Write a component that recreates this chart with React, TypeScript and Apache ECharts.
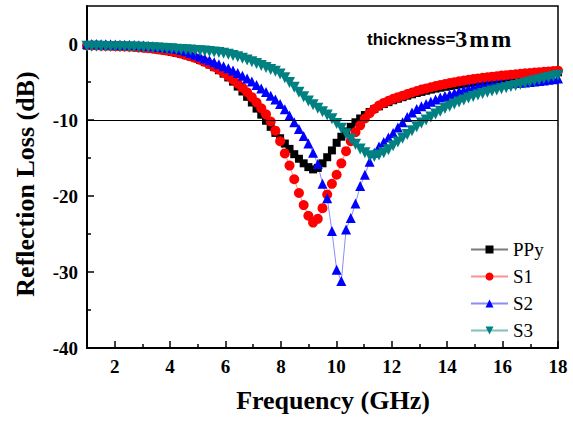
import React, { useEffect, useRef } from 'react';
import * as echarts from 'echarts';

const freq = [
  1.00, 1.17, 1.34, 1.51, 1.68, 1.85, 2.02, 2.19, 2.36, 2.53,
  2.70, 2.87, 3.04, 3.21, 3.38, 3.55, 3.72, 3.89, 4.06, 4.23,
  4.40, 4.57, 4.74, 4.91, 5.08, 5.25, 5.42, 5.59, 5.76, 5.93,
  6.10, 6.27, 6.44, 6.61, 6.78, 6.95, 7.12, 7.29, 7.46, 7.63,
  7.80, 7.97, 8.14, 8.31, 8.48, 8.65, 8.82, 8.99, 9.16, 9.33,
  9.50, 9.67, 9.84, 10.01, 10.18, 10.35, 10.52, 10.69, 10.86, 11.03,
  11.20, 11.37, 11.54, 11.71, 11.88, 12.05, 12.22, 12.39, 12.56, 12.73,
  12.90, 13.07, 13.24, 13.41, 13.58, 13.75, 13.92, 14.09, 14.26, 14.43,
  14.60, 14.77, 14.94, 15.11, 15.28, 15.45, 15.62, 15.79, 15.96, 16.13,
  16.30, 16.47, 16.64, 16.81, 16.98, 17.15, 17.32, 17.49, 17.66, 17.83,
  18.00,
];

const ppy = [
  -0.2, -0.2, -0.2, -0.22, -0.24, -0.26, -0.28, -0.3, -0.33, -0.36,
  -0.4, -0.45, -0.5, -0.57, -0.64, -0.72, -0.82, -0.93, -1.05, -1.18,
  -1.32, -1.48, -1.66, -1.86, -2.1, -2.38, -2.7, -3.05, -3.45, -3.9,
  -4.4, -4.95, -5.6, -6.25, -6.95, -7.7, -8.5, -9.3, -10.1, -10.9,
  -11.7, -12.4, -13.1, -13.8, -14.5, -15.1, -15.7, -16.2, -16.5, -16.3,
  -15.7, -14.9, -14.0, -13.0, -12.2, -11.5, -10.9, -10.3, -9.8, -9.35,
  -8.95, -8.55, -8.2, -7.9, -7.65, -7.4, -7.2, -7.0, -6.8, -6.62,
  -6.45, -6.3, -6.15, -6.0, -5.87, -5.75, -5.63, -5.52, -5.42, -5.32,
  -5.22, -5.12, -5.03, -4.95, -4.87, -4.79, -4.71, -4.63, -4.56, -4.49,
  -4.42, -4.35, -4.28, -4.21, -4.14, -4.07, -4.0, -3.93, -3.86, -3.79,
  -3.72,
];

const s1 = [
  -0.2, -0.2, -0.2, -0.22, -0.24, -0.26, -0.28, -0.3, -0.33, -0.36,
  -0.4, -0.45, -0.5, -0.56, -0.63, -0.7, -0.78, -0.87, -0.98, -1.11,
  -1.26, -1.43, -1.62, -1.84, -2.08, -2.35, -2.65, -2.98, -3.35, -3.75,
  -4.2, -4.7, -5.2, -5.75, -6.35, -7.0, -7.7, -8.45, -9.25, -10.2,
  -11.4, -12.8, -14.4, -16.0, -17.8, -19.6, -21.2, -22.6, -23.5, -23.0,
  -21.6, -19.8, -18.4, -17.2, -15.7, -14.1, -12.8, -11.6, -10.7, -9.8,
  -9.1, -8.55, -8.1, -7.75, -7.47, -7.22, -7.0, -6.8, -6.58, -6.38,
  -6.18, -6.0, -5.84, -5.69, -5.54, -5.4, -5.27, -5.14, -5.02, -4.91,
  -4.81, -4.71, -4.62, -4.53, -4.45, -4.37, -4.3, -4.23, -4.16, -4.1,
  -4.04, -3.98, -3.92, -3.86, -3.81, -3.76, -3.71, -3.66, -3.61, -3.56,
  -3.51,
];

const s2 = [
  0, 0, -0.01, -0.02, -0.03, -0.04, -0.05, -0.07, -0.09, -0.11,
  -0.14, -0.17, -0.21, -0.25, -0.3, -0.36, -0.42, -0.48, -0.55, -0.66,
  -0.8, -0.97, -1.17, -1.4, -1.65, -1.9, -2.15, -2.4, -2.65, -2.92,
  -3.2, -3.5, -3.82, -4.17, -4.55, -4.95, -5.4, -5.85, -6.3, -6.8,
  -7.3, -7.9, -8.6, -9.4, -10.3, -11.2, -12.1, -13.1, -14.3, -15.8,
  -18.4, -20.3, -24.6, -29.7, -31.2, -24.4, -22.9, -21.0, -18.7, -17.2,
  -15.5, -14.3, -13.5, -12.9, -12.3, -11.7, -11.0, -10.3, -9.6, -9.0,
  -8.55, -8.2, -7.9, -7.6, -7.3, -7.05, -6.85, -6.65, -6.45, -6.25,
  -6.05, -5.9, -5.75, -5.6, -5.5, -5.42, -5.36, -5.3, -5.26, -5.22,
  -5.18, -5.14, -5.1, -5.05, -5.0, -4.95, -4.88, -4.8, -4.72, -4.64,
  -4.55,
];

const s3 = [
  -0.3, -0.3, -0.3, -0.31, -0.32, -0.33, -0.34, -0.35, -0.36, -0.38,
  -0.4, -0.42, -0.44, -0.47, -0.5, -0.53, -0.56, -0.6, -0.64, -0.68,
  -0.72, -0.76, -0.8, -0.84, -0.88, -0.93, -0.98, -1.04, -1.12, -1.22,
  -1.35, -1.5, -1.68, -1.88, -2.1, -2.33, -2.57, -2.82, -3.08, -3.36,
  -3.6, -3.95, -4.45, -5.05, -5.7, -6.35, -6.95, -7.5, -8.0, -8.45,
  -8.9, -9.35, -9.85, -10.45, -11.1, -11.8, -12.5, -13.2, -13.8, -14.3,
  -14.7, -14.8, -14.6, -14.3, -13.9, -13.4, -12.9, -12.4, -11.9, -11.4,
  -10.9, -10.4, -10.0, -9.6, -9.2, -8.85, -8.5, -8.2, -7.9, -7.62,
  -7.36, -7.12, -6.9, -6.7, -6.52, -6.36, -6.2, -6.05, -5.9, -5.75,
  -5.6, -5.45, -5.3, -5.15, -5.0, -4.85, -4.7, -4.55, -4.4, -4.25,
  -4.1,
];

const seriesNames = ['PPy', 'S1', 'S2', 'S3'];
const xMajorTicks = [2, 4, 6, 8, 10, 12, 14, 16, 18];
const xMinorTicks = [3, 5, 7, 9, 11, 13, 15, 17];
const yMajorTicks = [-40, -30, -20, -10, 0];
const yMinorTicks = [-35, -25, -15, -5];
const refLevel = -10;

export default function App() {
  const ref = useRef<HTMLDivElement>(null);
  useEffect(() => {
    if (!ref.current) return;
    const chart = echarts.init(ref.current, null, { renderer: 'svg' });
    const serif = '"Liberation Serif", "Times New Roman", serif';
    const sans = '"Liberation Sans", Arial, sans-serif';
    const mk = (arr: number[]) => freq.map((f, i) => [f, arr[i]]);
    const labelStyle = {
      fontFamily: serif,
      fontWeight: 'bold',
      fontSize: 19,
      color: '#000',
    };
    chart.setOption({
      animation: false,
      backgroundColor: '#fff',
      grid: {
        left: 87,
        right: 15,
        top: 6,
        bottom: 75,
        show: true,
        borderColor: '#000',
        borderWidth: 1.5,
        backgroundColor: 'transparent',
        outerBoundsMode: 'none',
        containLabel: false,
      },
      xAxis: [
        {
          type: 'value',
          min: 1,
          max: 18,
          position: 'bottom',
          axisLine: { show: true, onZero: false, lineStyle: { color: '#000', width: 2 } },
          axisTick: {
            show: true,
            inside: true,
            length: 7,
            customValues: xMajorTicks,
            lineStyle: { color: '#000', width: 1.5 },
          },
          axisLabel: { ...labelStyle, margin: 9, customValues: xMajorTicks },
          splitLine: { show: false },
        },
        {
          type: 'value',
          min: 1,
          max: 18,
          position: 'bottom',
          axisLine: { show: false, onZero: false },
          axisTick: {
            show: true,
            inside: true,
            length: 4,
            customValues: xMinorTicks,
            lineStyle: { color: '#000', width: 1.5 },
          },
          axisLabel: { show: false },
          splitLine: { show: false },
        },
      ],
      yAxis: [
        {
          type: 'value',
          min: -40,
          max: 5,
          position: 'left',
          axisLine: { show: true, onZero: false, lineStyle: { color: '#000', width: 2 } },
          axisTick: {
            show: true,
            inside: true,
            length: 7,
            customValues: yMajorTicks,
            lineStyle: { color: '#000', width: 1.5 },
          },
          axisLabel: { ...labelStyle, margin: 9, customValues: yMajorTicks },
          splitLine: { show: false },
        },
        {
          type: 'value',
          min: -40,
          max: 5,
          position: 'left',
          axisLine: { show: false, onZero: false },
          axisTick: {
            show: true,
            inside: true,
            length: 4,
            customValues: yMinorTicks,
            lineStyle: { color: '#000', width: 1.5 },
          },
          axisLabel: { show: false },
          splitLine: { show: false },
        },
      ],
      legend: {
        orient: 'vertical',
        left: 465,
        top: 235,
        itemWidth: 37,
        itemHeight: 10,
        itemGap: 8,
        selectedMode: false,
        data: seriesNames,
        textStyle: { fontFamily: serif, fontSize: 19, color: '#000' },
      },
      graphic: [
        {
          type: 'text',
          x: 333,
          y: 400,
          style: {
            text: 'Frequency (GHz)',
            font: `bold 26px ${serif}`,
            fill: '#000',
            align: 'center',
            verticalAlign: 'middle',
          },
        },
        {
          type: 'text',
          x: 25,
          y: 184,
          rotation: Math.PI / 2,
          style: {
            text: 'Reflection Loss (dB)',
            font: `bold 26px ${serif}`,
            fill: '#000',
            align: 'center',
            verticalAlign: 'middle',
          },
        },
        {
          type: 'text',
          x: 367,
          y: 39,
          style: {
            text: '{a|thickness=}{b|3}{c|m}{c|m}',
            align: 'left',
            verticalAlign: 'middle',
            rich: {
              a: { fontFamily: sans, fontWeight: 'bold', fontSize: 17, fill: '#000', color: '#000' },
              b: { fontFamily: serif, fontWeight: 'bold', fontSize: 24, fill: '#000', color: '#000' },
              c: { fontFamily: serif, fontWeight: 'bold', fontSize: 24, fill: '#000', color: '#000', padding: [0, 0, 0, 2] },
            },
          },
        },
      ],
      series: [
        {
          name: 'PPy',
          type: 'line',
          data: mk(ppy),
          symbol: 'rect',
          symbolSize: 8,
          itemStyle: { color: '#000' },
          lineStyle: { color: '#7a7a7a', width: 1 },
          emphasis: { disabled: true },
          silent: true,
          markLine: {
            silent: true,
            symbol: ['none', 'none'],
            label: { show: false },
            lineStyle: { color: '#000', width: 1.2, type: 'solid' },
            emphasis: { disabled: true },
            data: [{ yAxis: refLevel }],
          },
        },
        {
          name: 'S1',
          type: 'line',
          data: mk(s1),
          symbol: 'circle',
          symbolSize: 10,
          itemStyle: { color: '#ff0000' },
          lineStyle: { color: '#ff9090', width: 1 },
          emphasis: { disabled: true },
          silent: true,
        },
        {
          name: 'S2',
          type: 'line',
          data: mk(s2),
          symbol: 'triangle',
          symbolSize: 10,
          itemStyle: { color: '#0000ff' },
          lineStyle: { color: '#8c8cf5', width: 1 },
          emphasis: { disabled: true },
          silent: true,
        },
        {
          name: 'S3',
          type: 'line',
          data: mk(s3),
          symbol: 'triangle',
          symbolRotate: 180,
          symbolSize: 11,
          itemStyle: { color: '#008080' },
          lineStyle: { color: '#80c0c0', width: 1 },
          emphasis: { disabled: true },
          silent: true,
        },
      ],
    });
    return () => chart.dispose();
  }, []);
  return (
    <div
      ref={ref}
      style={{ position: 'absolute', left: 0, top: 0, width: 573, height: 423 }}
    />
  );
}
